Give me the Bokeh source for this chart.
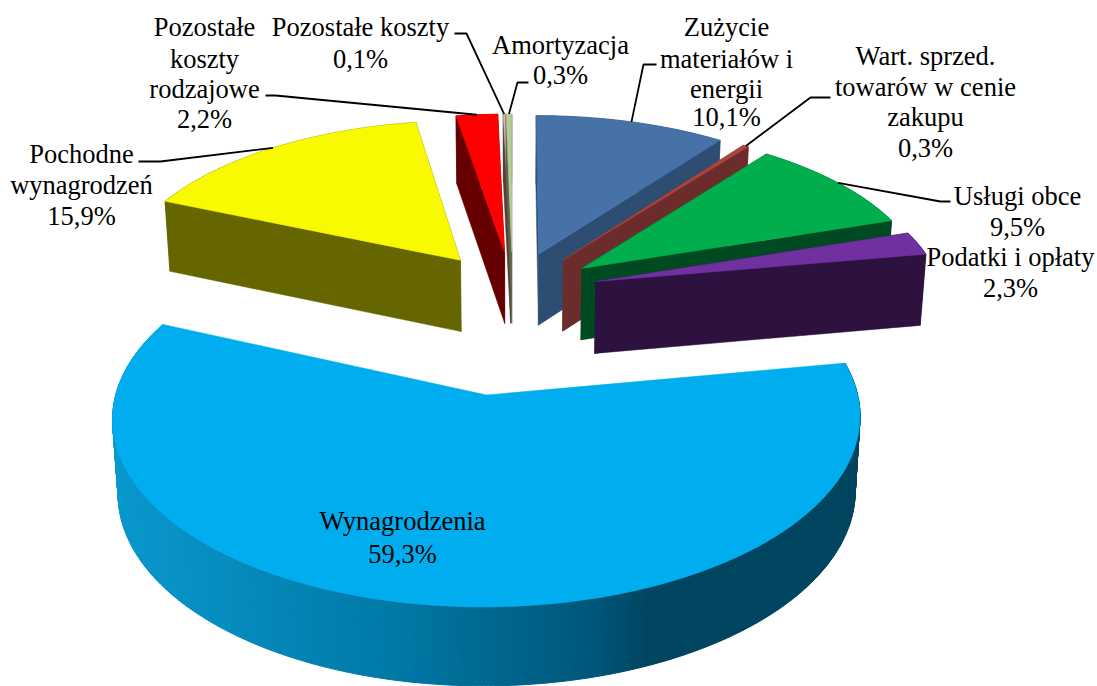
import numpy as np
from bokeh.plotting import figure
from bokeh.models import Range1d
from bokeh.core.properties import value
from bokeh.embed import file_html
from bokeh.resources import INLINE

# ---- data ----
names = ["Zużycie materiałów i energii", "Wart. sprzed. towarów w cenie zakupu", "Usługi obce",
         "Podatki i opłaty", "Wynagrodzenia", "Pochodne wynagrodzeń",
         "Pozostałe koszty rodzajowe", "Pozostałe koszty", "Amortyzacja"]
values = [10.1, 0.3, 9.5, 2.3, 59.3, 15.9, 2.2, 0.1, 0.3]
top_colors = ["#4672A8", "#A8453F", "#00AE4E", "#7030A0", "#00AEEF", "#F9F900", "#FF0000", "#D9B8B8", "#B5CC9A"]
side_colors = ["#2D4E72", "#6D2C2C", "#004A21", "#2D1240", "#00465F", "#666600", "#660000", "#5A3A3A", "#5A6645"]
explode = [0.25, 0.25, 0.25, 0.25, 0.60, 0.25, 0.25, 0.25, 0.25]

label_lines = [
    ["Zużycie", "materiałów i", "energii", "10,1%"],
    ["Wart. sprzed.", "towarów w cenie", "zakupu", "0,3%"],
    ["Usługi obce", "9,5%"],
    ["Podatki i opłaty", "2,3%"],
    ["Wynagrodzenia", "59,3%"],
    ["Pochodne", "wynagrodzeń", "15,9%"],
    ["Pozostałe", "koszty", "rodzajowe", "2,2%"],
    ["Pozostałe koszty", "0,1%"],
    ["Amortyzacja", "0,3%"],
]
label_x = [726, 925, 1017, 1010, 402, 81, 204, 360, 560]
label_ys = [[26, 58, 88, 116], [55, 86, 116, 147], [195, 226], [256, 287], [520, 553],
            [153, 184, 215], [26, 58, 88, 118], [26, 58], [44, 74]]
leader_tail = [[(643, 64), (656, 64)], [(810, 97), (830, 97)], [(940, 201), (950, 201)], None, None,
               [(160, 161), (138, 161)], [(275, 95), (265, 95)], [(466, 33), (454, 33)], [(517, 82), (528, 82)]]

# ---- projection of the 3D pie ----
CX, CY, RX, RY, K = 512.0, 291.0, 346.0, 162.0, 0.113
W, H = 1097, 686


def project(u, v):
    s = 1.0 / (1.0 + K * v)
    return CX + RX * u * s, CY - RY * v * s


def lower(x, y):
    return CX + (x - CX) * 0.986, y + 70 + (y - 200) * 0.022


p = figure(width=W, height=H, x_range=Range1d(0, W), y_range=Range1d(H, 0), x_axis_type=None, y_axis_type=None,
           toolbar_location=None, output_backend="svg", min_border=0, outline_line_color=None,
           margin=(0, 0, 0, 0))
p.grid.visible = False

total = sum(values)
edges = np.cumsum([0.0] + values) / total * 360.0
mids = {}
# back to front
order = [5, 6, 7, 8, 0, 1, 2, 3, 4]
for i in order:
    t0, t1 = np.radians(edges[i]), np.radians(edges[i + 1])
    bis = (t0 + t1) / 2
    ou, ov = explode[i] * np.sin(bis), explode[i] * np.cos(bis)
    n = max(4, int(np.degrees(t1 - t0) * 1.5))
    th = np.linspace(t0, t1, n)
    ax, ay = project(ou, ov)
    rx, ry = project(ou + np.sin(th), ov + np.cos(th))
    mids[i] = project(ou + np.sin(bis), ov + np.cos(bis))
    tx, ty = np.r_[ax, rx], np.r_[ay, ry]
    bx, by = lower(tx, ty)
    if values[i] > 50:
        # outer wall with a left-to-right shading
        xs, ys, cols = [], [], []
        stops_x = [115, 400, 600, 650, 860]
        stops = np.array([[0x0A, 0x98, 0xCE], [0x00, 0x78, 0xA5], [0x00, 0x55, 0x78], [0x00, 0x45, 0x60], [0x00, 0x46, 0x5F]])
        th2 = np.linspace(t0, t1, 320)
        rx2, ry2 = project(ou + np.sin(th2), ov + np.cos(th2))
        lbx, lby = lower(rx2, ry2)
        for j in range(len(th2) - 1):
            xs.append([rx2[j], rx2[j + 1], lbx[j + 1], lbx[j]])
            ys.append([ry2[j], ry2[j + 1], lby[j + 1], lby[j]])
            xm = (rx2[j] + rx2[j + 1]) / 2
            c = [int(np.interp(xm, stops_x, stops[:, k])) for k in range(3)]
            cols.append("#%02x%02x%02x" % tuple(c))
        p.patches(xs, ys, fill_color=cols, line_color=cols, line_width=1)
    else:
        # radial and outer walls, same dark colour
        xs = [[tx[j], tx[(j + 1) % len(tx)], bx[(j + 1) % len(tx)], bx[j]] for j in range(len(tx))]
        ys = [[ty[j], ty[(j + 1) % len(tx)], by[(j + 1) % len(tx)], by[j]] for j in range(len(tx))]
        p.patches(xs, ys, fill_color=side_colors[i], line_color=side_colors[i], line_width=0.5)
    p.patch(tx, ty, fill_color=top_colors[i], line_color=top_colors[i], line_width=0.5)

# leaders from the outer arc midpoint of each slice
for i, tail in enumerate(leader_tail):
    if tail is None:
        continue
    mx, my = mids[i]
    p.line([mx] + [q[0] for q in tail], [my] + [q[1] for q in tail], line_color="black", line_width=1.8)

# labels
for lines, x, ys in zip(label_lines, label_x, label_ys):
    p.text([x] * len(lines), ys, text=lines, text_font=value("Liberation Serif"), text_font_size="26.5px",
           text_color="black", text_align="center", text_baseline="middle")

open("out.html", "w").write(file_html(p, INLINE))
